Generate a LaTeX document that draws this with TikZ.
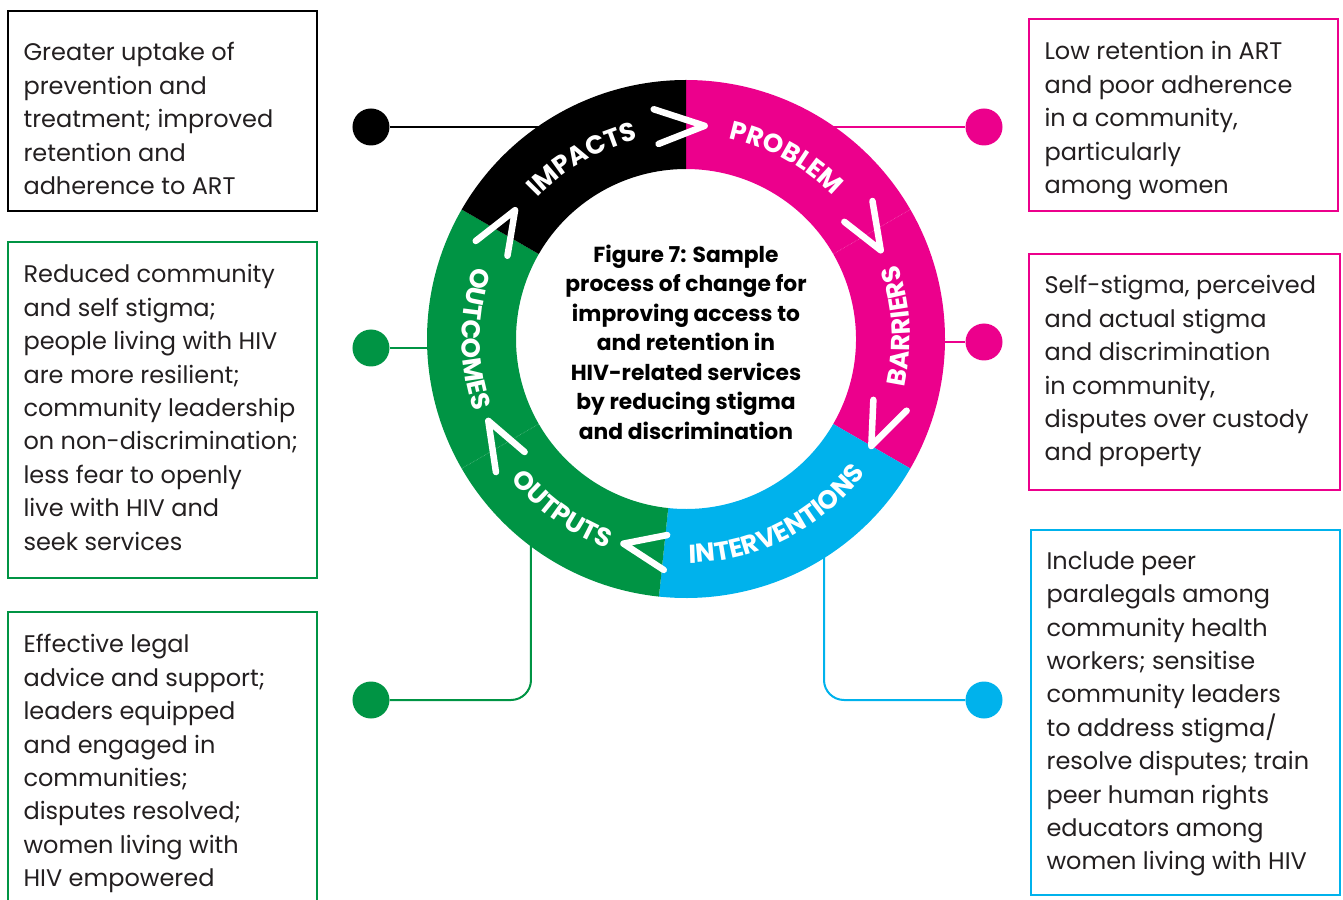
\documentclass[tikz,border=0pt]{standalone}
\usepackage{fontspec}
\setmainfont{Poppins}
\usepackage{xcolor}
\usetikzlibrary{positioning,decorations.text}

\definecolor{hivpink}{HTML}{EC008C}
\definecolor{hivgreen}{HTML}{009444}
\definecolor{hivblue}{HTML}{00B2EC}
\definecolor{hivtext}{HTML}{231F20}

\newcommand{\boxfont}{\fontsize{24}{33.4}\selectfont}
\newcommand{\ringfont}{\fontsize{26}{26}\selectfont\bfseries}
\newcommand{\titlefont}{\fontsize{21.8}{29.5}\selectfont\bfseries}

\tikzset{
  infobox/.style={draw=#1, line width=1.3pt, minimum width=309pt, inner sep=0pt},
  infotext/.style={inner sep=0pt, align=left, text=hivtext, font=\boxfont},
  dot/.style={circle, fill=#1, minimum size=37pt, inner sep=0pt},
  link/.style={draw=#1, line width=2pt},
  chevron/.style={white, line width=6.5pt, line cap=round, line join=round},
  ringtext/.style={decorate, decoration={text along path, text align=center, text color=white, text={|\ringfont|#1}}}
}

\begin{document}
\begin{tikzpicture}[x=1pt, y=1pt]
  \useasboundingbox (-686,-560) rectangle (657,339);

  \node [infobox=black, minimum height=200pt] (impbox) at (-523.5,228) {};
  \node [infotext, below right=32pt and 16pt of impbox.north west] (imptext) {Greater uptake of\\prevention and\\treatment; improved\\retention and\\adherence to ART};

  \node [infobox=hivgreen, minimum height=336pt] (outcbox) at (-523.5,-71) {};
  \node [infotext, below right=23pt and 16pt of outcbox.north west] (outctext) {Reduced community\\and self stigma;\\people living with HIV\\are more resilient;\\community leadership\\on non-discrimination;\\less fear to openly\\live with HIV and\\seek services};

  \node [infobox=hivgreen, minimum height=307pt] (outpbox) at (-523.5,-426.5) {};
  \node [infotext, below right=23pt and 16pt of outpbox.north west] (outptext) {Effective legal\\advice and support;\\leaders equipped\\and engaged in\\communities;\\disputes resolved;\\women living with\\HIV empowered};

  \node [infobox=hivpink, minimum height=192pt] (probbox) at (497.5,224) {};
  \node [infotext, below right=23pt and 16pt of probbox.north west] (probtext) {Low retention in ART\\and poor adherence\\in a community,\\particularly\\among women};

  \node [infobox=hivpink, minimum width=311pt, minimum height=236pt] (barbox) at (498.5,-33) {};
  \node [infotext, below right=22pt and 16pt of barbox.north west] (bartext) {Self-stigma, perceived\\and actual stigma\\and discrimination\\in community,\\disputes over custody\\and property};

  \node [infobox=hivblue, minimum height=365pt] (intbox) at (499.5,-373.5) {};
  \node [infotext, below right=22pt and 16pt of intbox.north west] (inttext) {Include peer\\paralegals among\\community health\\workers; sensitise\\community leaders\\to address stigma/\\resolve disputes; train\\peer human rights\\educators among\\women living with HIV};

  \node [dot=black] (impdot) at (-315,212) {};
  \node [dot=hivpink] (probdot) at (298,212) {};
  \node [dot=hivpink] (bardot) at (298,-3) {};
  \node [dot=hivgreen] (outcdot) at (-315,-9) {};
  \node [dot=hivgreen] (outpdot) at (-315,-361) {};
  \node [dot=hivblue] (intdot) at (298,-361) {};

  \coordinate (ring) at (0,0);
  \coordinate (ringW) at (-214,0);
  \coordinate (ringE) at (214,0);
  \coordinate (ringSW) at (-155,-150);
  \coordinate (ringSE) at (138,-180);

  \draw [link=black] (impdot) -- (impdot -| ring);
  \draw [link=hivpink] (probdot) -- (probdot -| ring);
  \draw [link=hivpink] (bardot) -- (bardot -| ringE);
  \draw [link=hivgreen] (outcdot) -- (outcdot -| ringW);
  \draw [link=hivgreen, rounded corners=20pt] (outpdot) -| (ringSW);
  \draw [link=hivblue, rounded corners=20pt] (intdot) -| (ringSE);

  \fill [hivpink] (90:259) arc [start angle=90, end angle=-30, radius=259] -- (-30:170) arc [start angle=-30, end angle=90, radius=170] -- cycle;
  \fill [hivblue] (-30:259) arc [start angle=-30, end angle=-96, radius=259] -- (-96:170) arc [start angle=-96, end angle=-30, radius=170] -- cycle;
  \fill [hivgreen] (-96:259) arc [start angle=-96, end angle=-210, radius=259] -- (-210:170) arc [start angle=-210, end angle=-96, radius=170] -- cycle;
  \fill [black] (150:259) arc [start angle=150, end angle=90, radius=259] -- (90:170) arc [start angle=90, end angle=150, radius=170] -- cycle;

  \draw [white, opacity=0.35, line width=0.6pt, densely dotted] (30:170) -- (30:259);
  \draw [white, opacity=0.35, line width=0.6pt, densely dotted] (-150:170) -- (-150:259);

  \foreach \a/\t in {98/85, 36.5/24.5, -18/-30, -95.5/-107, -145/-157.5, 155/143}
    \draw [chevron] (\a:232) -- (\t:214) -- (\a:197);

  \path [ringtext=IMPACTS] (150:205) arc [start angle=150, end angle=90, radius=205];
  \path [ringtext=PROBLEM] (91:205) arc [start angle=91, end angle=31, radius=205];
  \path [ringtext=BARRIERS] (-30:224) arc [start angle=-30, end angle=37, radius=224];
  \path [ringtext=INTERVENTIONS] (-100:224) arc [start angle=-100, end angle=-26, radius=224];
  \path [ringtext=OUTPUTS] (-160:224) arc [start angle=-160, end angle=-92, radius=224];
  \path [ringtext=OUTCOMES] (145:224) arc [start angle=145, end angle=215, radius=224];

  \node [align=center, font=\titlefont, text=black] (title) at (0,-3) {Figure 7: Sample\\process of change for\\improving access to\\and retention in\\HIV-related services\\by reducing stigma\\and discrimination};
\end{tikzpicture}
\end{document}
